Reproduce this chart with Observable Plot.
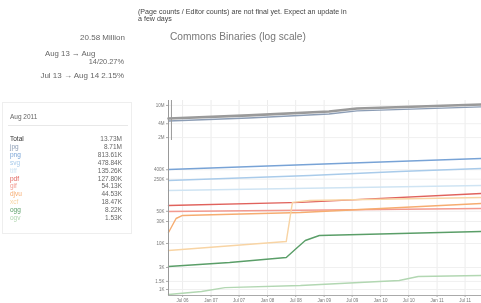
<!DOCTYPE html>
<html><head><meta charset="utf-8">
<script src="https://cdn.jsdelivr.net/npm/d3@7"></script>
<script src="https://cdn.jsdelivr.net/npm/@observablehq/plot@0.6"></script>
<style>
body{margin:0;width:481px;height:303px;overflow:hidden;background:#fff;font-family:"Liberation Sans",Arial,sans-serif;position:relative;filter:blur(0.35px)}
.abs{position:absolute;white-space:nowrap}
#chart{position:absolute;left:140px;top:90px}
</style></head><body>
<div class="abs" style="left:138px;top:9px;width:213px;white-space:normal;font-size:7.1px;line-height:6.8px;color:#444">(Page counts / Editor counts) are not final yet. Expect an update in a few days</div>
<div class="abs" style="right:356px;top:33px;font-size:8px;color:#666">20.58 Million</div>
<div class="abs" style="left:45px;top:49px;font-size:7.8px;color:#666">Aug 13 → Aug</div>
<div class="abs" style="right:357px;top:57px;font-size:7.4px;color:#666">14/20.27%</div>
<div class="abs" style="right:357px;top:71px;font-size:8px;color:#666">Jul 13 → Aug 14 2.15%</div>
<div class="abs" style="left:170px;top:31px;font-size:10.2px;color:#777">Commons Binaries (log scale)</div>
<div class="abs" style="left:2px;top:102px;width:128px;height:130px;border:1px solid #eee"></div>
<div class="abs" style="left:10px;top:113px;font-size:6.5px;color:#666">Aug 2011</div>
<div class="abs" style="left:8px;top:125px;width:120px;border-top:1px solid #e8e8e8"></div>
<div id="legend"></div>
<div id="chart"></div>
<script>
// legend rows
const seriesNames = ["Total","jpg","png","svg","tiff","pdf","gif","djvu","xcf","ogg","ogv"];
const seriesColors = ["#9a9a9a","#8c9db5","#78a3d6","#a9cbea","#cfe4f3","#e0625c","#f29a90","#f6ac70","#f8d4a4","#5a9e68","#b2d7b2"];
const legendValues = ["13.73M","8.71M","813.61K","478.84K","135.26K","127.80K","54.13K","44.53K","18.47K","8.22K","1.53K"];

// chart series: [date, files]
const pts_total = [["2006-04-01",5.2e6],["2007-09-01",6.07e6],["2009-02-01",7.4e6],["2009-08-01",8.6e6],["2011-10-15",10.5e6]];
const pts_jpg = [["2006-04-01",4.6e6],["2007-09-01",5.35e6],["2009-02-01",6.5e6],["2009-08-01",7.6e6],["2011-10-15",9.3e6]];
const pts_png = [["2006-04-01",406e3],["2008-10-01",522e3],["2011-10-15",705e3]];
const pts_svg = [["2006-04-01",234e3],["2008-10-01",301e3],["2010-05-01",367e3],["2011-10-15",427e3]];
const pts_tiff = [["2006-04-01",142e3],["2011-10-15",182e3]];
const pts_pdf = [["2006-04-01",67e3],["2008-08-01",78e3],["2011-10-15",122e3]];
const pts_gif = [["2006-04-01",49.6e3],["2011-10-15",57.6e3]];
const pts_djvu = [["2006-04-01",17.3e3],["2006-05-20",34.9e3],["2006-07-01",40.6e3],["2008-08-01",47.2e3],["2011-10-15",74e3]];
const pts_xcf = [["2006-04-01",7.05e3],["2008-05-01",11.0e3],["2008-06-10",78e3],["2008-10-01",86e3],["2011-10-15",100e3]];
const pts_ogg = [["2006-04-01",3.16e3],["2007-05-01",3.86e3],["2008-05-01",4.96e3],["2008-07-01",7.6e3],["2008-09-01",11.6e3],["2008-12-01",14.9e3],["2011-10-15",18.2e3]];
const pts_ogv = [["2006-04-01",779],["2006-11-01",905],["2007-04-01",1100],["2008-08-01",1220],["2010-05-01",1570],["2010-09-01",1920],["2011-10-15",2010]];

const xTicks = ["2006-07-01","2007-01-01","2007-07-01","2008-01-01","2008-07-01","2009-01-01","2009-07-01","2010-01-01","2010-07-01","2011-01-01","2011-07-01"];
const yTicks = [1e7,4e6,2e6,4e5,2.5e5,5e4,3e4,1e4,3e3,1.5e3,1e3];
const yTickLabels = ["10M","4M","2M","400K","250K","50K","30K","10K","3K","1.5K","1K"];

const leg = document.getElementById("legend");
seriesNames.forEach((n,i)=>{
  const top = 135 + i*7.9;
  leg.insertAdjacentHTML("beforeend",
    `<div class="abs" style="left:10px;top:${top}px;font-size:6.5px;color:${i===0?"#333":seriesColors[i]}">${n}</div>`+
    `<div class="abs" style="right:359px;top:${top}px;font-size:6.5px;color:#666">${legendValues[i]}</div>`);
});

const allPts = [pts_total,pts_jpg,pts_png,pts_svg,pts_tiff,pts_pdf,pts_gif,pts_djvu,pts_xcf,pts_ogg,pts_ogv];
const rows = [];
allPts.forEach((arr,i)=>arr.forEach(([d,v])=>rows.push({name:seriesNames[i],date:new Date(d),value:v})));
const xDom = [new Date("2006-04-01"),new Date("2011-10-15")];
const fmt = d3.utcFormat("%b %y");
const yLab = new Map(yTicks.map((t,i)=>[t,yTickLabels[i]]));

const chart = Plot.plot({
  width:341, height:215,
  marginLeft:28, marginRight:0, marginTop:10, marginBottom:10,
  style:{fontSize:"4.5px",color:"#777",background:"transparent",fontFamily:"Liberation Sans, Arial, sans-serif"},
  x:{type:"utc",domain:xDom,label:null},
  y:{type:"log",domain:[740,1.28e7],label:null},
  color:{domain:seriesNames,range:seriesColors},
  marks:[
    Plot.gridX(xTicks.map(d=>new Date(d)),{stroke:"#ececec",strokeOpacity:1}),
    Plot.gridY(yTicks,{stroke:"#f0f0f0",strokeOpacity:1}),
    Plot.line(rows,{x:"date",y:"value",z:"name",stroke:"name",strokeWidth:d=>d.name==="Total"?2.6:1.4}),
    Plot.ruleX([new Date("2006-04-20")],{y1:1.73e6,y2:1.28e7,stroke:"#999",strokeWidth:1}),
    Plot.ruleX([xDom[0]],{stroke:"#999"}),
    Plot.ruleY([740],{stroke:"#aaa"}),
    Plot.axisX(xTicks.map(d=>new Date(d)),{tickSize:2,tickPadding:1,tickFormat:fmt,stroke:"#aaa",label:null}),
    Plot.axisY(yTicks,{tickSize:2,tickFormat:()=>"",stroke:"#aaa",label:null}),
    Plot.text(yTicks,{x:()=>xDom[0],y:d=>d,text:d=>yLab.get(d),dx:-4,textAnchor:"end",fill:"#777",fontSize:4.5})
  ]
});
document.getElementById("chart").appendChild(chart);
</script>
</body></html>
